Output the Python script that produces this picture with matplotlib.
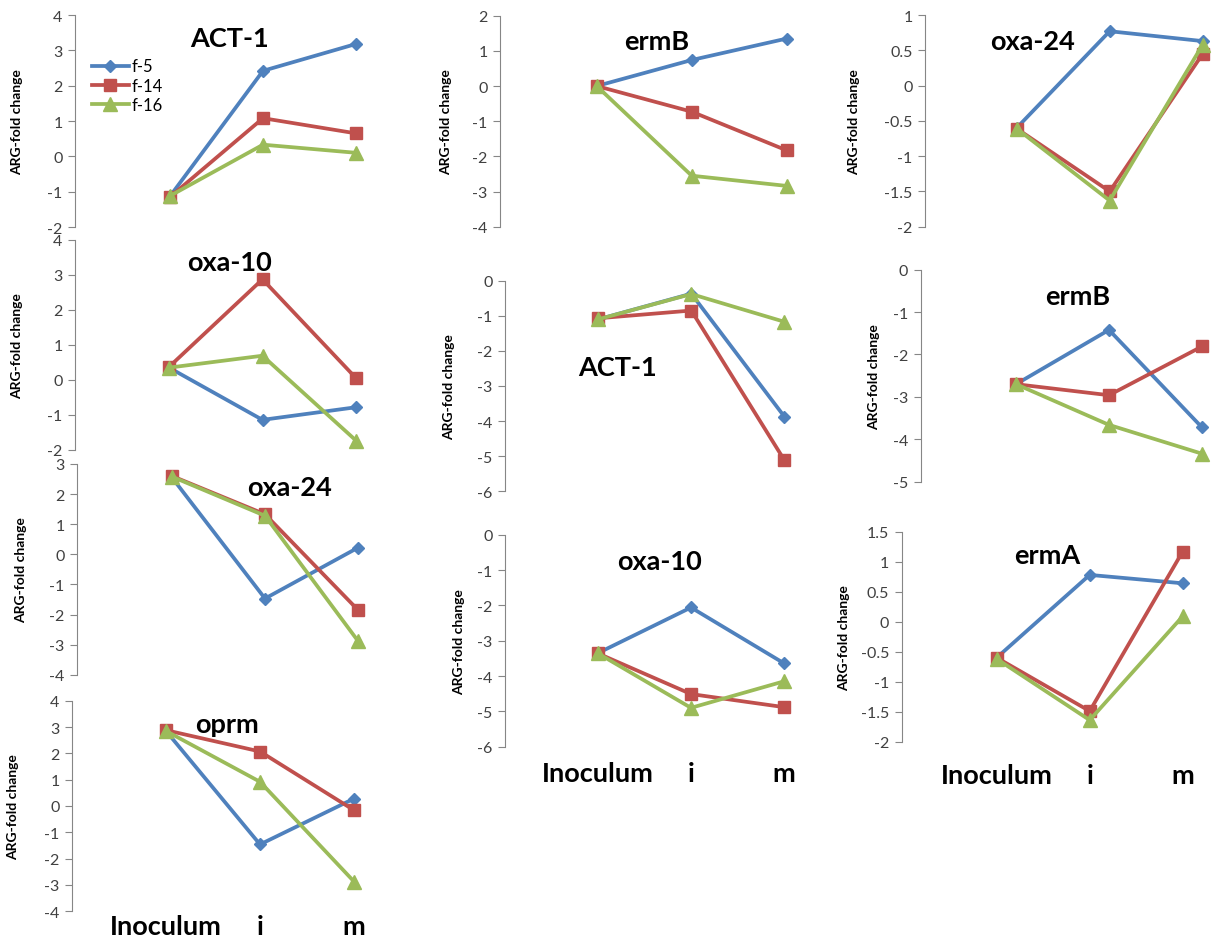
import matplotlib
matplotlib.use('Agg')
import matplotlib.pyplot as plt
import numpy as np

plt.rcParams['font.family'] = ['Lato', 'DejaVu Sans']
plt.rcParams['axes.unicode_minus'] = False

categories = ['Inoculum', 'i', 'm']
series_names = ['f-5', 'f-14', 'f-16']

# values per panel: rows are f-5, f-14, f-16
act1_a = [[-1.13, 2.42, 3.18], [-1.15, 1.08, 0.65], [-1.12, 0.33, 0.10]]
oxa10_a = [[0.35, -1.14, -0.78], [0.37, 2.87, 0.05], [0.35, 0.69, -1.73]]
oxa24_a = [[2.55, -1.47, 0.22], [2.60, 1.33, -1.85], [2.58, 1.28, -2.88]]
oprm_a = [[2.85, -1.46, 0.28], [2.88, 2.07, -0.16], [2.85, 0.92, -2.87]]
ermB_b = [[0.0, 0.74, 1.35], [0.0, -0.73, -1.83], [0.0, -2.55, -2.84]]
act1_b = [[-1.10, -0.37, -3.87], [-1.07, -0.85, -5.11], [-1.10, -0.38, -1.17]]
oxa10_b = [[-3.35, -2.06, -3.64], [-3.36, -4.51, -4.88], [-3.36, -4.90, -4.15]]
oxa24_c = [[-0.60, 0.77, 0.63], [-0.61, -1.50, 0.45], [-0.61, -1.63, 0.58]]
ermB_c = [[-2.70, -1.42, -3.72], [-2.70, -2.96, -1.81], [-2.70, -3.66, -4.34]]
ermA_c = [[-0.60, 0.78, 0.64], [-0.60, -1.49, 1.17], [-0.62, -1.64, 0.09]]

colors = ['#4F81BD', '#C0504D', '#9BBB59']
markers = ['D', 's', '^']
msizes = [6.5, 9, 9.5]

W, H = 1212, 937
fig = plt.figure(figsize=(W / 100, H / 100), dpi=100)

# panel: data, title, title pos, axis x, first point x, spacing, top y, bottom y, ymin, ymax, step, ylabel x, xlabels pad
panels = [
    (act1_a, 'ACT-1', (230, 39), 75, 170, 93, 16, 228, -2, 4, 1, 23, None),
    (oxa10_a, 'oxa-10', (230, 263), 75, 169, 93.5, 240.7, 451, -2, 4, 1, 23, None),
    (oxa24_a, 'oxa-24', (290, 488), 77, 172, 93, 465, 675.7, -4, 3, 1, 27, None),
    (oprm_a, 'oprm', (227, 725), 72, 166, 94, 701.7, 912.3, -4, 4, 1, 19, 2),
    (ermB_b, 'ermB', (657, 42), 500, 596.7, 95, 16.7, 227.7, -4, 2, 1, 452, None),
    (act1_b, 'ACT-1', (618, 368), 505, 598.3, 93, 281.7, 492.3, -6, 0, 1, 455, None),
    (oxa10_b, 'oxa-10', (660, 562), 505, 598, 93, 535.7, 747.7, -6, 0, 1, 465, 10),
    (oxa24_c, 'oxa-24', (1033, 42), 925, 1016.7, 93, 16, 227.7, -2, 1, 0.5, 860, None),
    (ermB_c, 'ermB', (1078, 297), 920.7, 1016, 93, 270.7, 482.7, -5, 0, 1, 880, None),
    (ermA_c, 'ermA', (1047, 556), 901.7, 996.7, 93, 532.7, 742.7, -2, 1.5, 0.5, 850, 15),
]

x = np.arange(len(categories))
first = None
for (vals, title, tpos, ax_x, p0, w, top, bot, ymin, ymax, step, ylx, xpad) in panels:
    right = p0 + 2.5 * w
    ax = fig.add_axes([ax_x / W, 1 - bot / H, (right - ax_x) / W, (bot - top) / H])
    ax.patch.set_alpha(0)
    for k in range(3):
        ax.plot(x, vals[k], color=colors[k], marker=markers[k], markersize=msizes[k],
                linewidth=2.7, label=series_names[k], clip_on=False)
    ax.set_xlim(-(p0 - ax_x) / w, 2.5)
    ax.set_ylim(ymin, ymax)
    ax.set_yticks(np.arange(ymin, ymax + step / 2, step))
    ax.yaxis.set_major_formatter(matplotlib.ticker.FormatStrFormatter('%g'))
    for s in ['top', 'right', 'bottom']:
        ax.spines[s].set_visible(False)
    ax.spines['left'].set_color('#868686')
    ax.tick_params(axis='y', direction='out', length=5, color='#868686',
                   labelsize=11.5, labelcolor='#404040', pad=4)
    if xpad is None:
        ax.set_xticks([])
    else:
        ax.set_xticks(x)
        ax.set_xticklabels(categories, fontsize=19.5, fontweight='bold')
        ax.tick_params(axis='x', length=0, pad=xpad)
    ax.set_ylabel('ARG-fold change', fontsize=10, fontweight='bold')
    ax.yaxis.set_label_coords((ylx - ax_x) / (right - ax_x), 0.5)
    fig.text(tpos[0] / W, 1 - tpos[1] / H, title, fontsize=19.5, fontweight='bold',
             ha='center', va='center')
    if first is None:
        first = ax
        ax.legend(loc='upper left', bbox_to_anchor=(0.052, 0.795), frameon=False,
                  fontsize=12, handlelength=2.2, handletextpad=0.2,
                  labelspacing=0.2, borderpad=0, borderaxespad=0)

fig.savefig('out.png', dpi=100)
